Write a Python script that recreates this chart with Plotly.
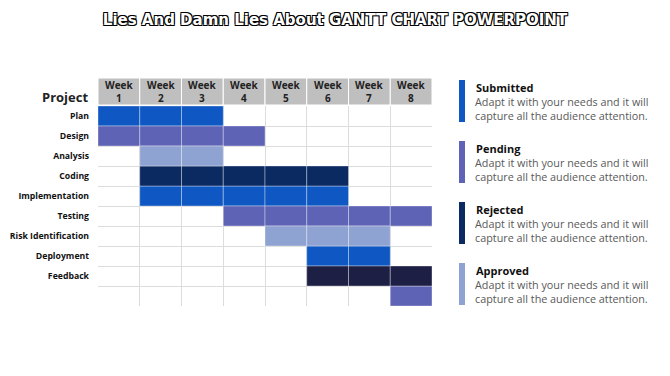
import plotly.graph_objects as go

# ---------------- data ----------------
tasks = ["Plan", "Design", "Analysis", "Coding", "Implementation", "Testing",
         "Risk Identification", "Deployment", "Feedback", ""]
start_week = [1, 1, 2, 2, 2, 4, 5, 6, 6, 8]
end_week = [3, 4, 3, 6, 6, 8, 7, 7, 8, 8]
task_status = ["Submitted", "Pending", "Approved", "Rejected", "Submitted", "Pending",
               "Approved", "Submitted", "Feedback", "Pending"]
weeks = [1, 2, 3, 4, 5, 6, 7, 8]
week_labels = ["Week<br>1", "Week<br>2", "Week<br>3", "Week<br>4",
               "Week<br>5", "Week<br>6", "Week<br>7", "Week<br>8"]
legend_statuses = ["Submitted", "Pending", "Rejected", "Approved"]
legend_text = "Adapt it with your needs and it will<br>capture all the audience attention."
title_text = "Lies And Damn Lies About GANTT CHART POWERPOINT"

# ---------------- style ----------------
COLORS = {"Submitted": "#0f58c4", "Pending": "#5e63b6", "Rejected": "#0b2a62",
          "Approved": "#8fa3d2", "Feedback": "#1e1f44"}
OUTLINE = "-1px -1px 0 #000, 1px -1px 0 #000, -1px 1px 0 #000, 1px 1px 0 #000"

OFF = 8  # page body margin
W, H = 670, 376
L, R, T, B = 98 - OFF, W - (432 - OFF), 106 - OFF, H - (306 - OFF)
PW, PH = W - L - R, H - T - B


def px_x(x):
    return (x - OFF - L) / PW


def px_y(y):
    return (H - B - (y - OFF)) / PH


fig = go.Figure()

# one bar per cell, grouped by status
for st in COLORS:
    ys, xs, bases = [], [], []
    for i, (s, e, ts) in enumerate(zip(start_week, end_week, task_status)):
        if ts != st:
            continue
        for w in range(s, e + 1):
            ys.append(i)
            xs.append(1)
            bases.append(w - 1)
    if not ys:
        continue
    fig.add_trace(go.Bar(
        orientation="h", y=ys, x=xs, base=bases, width=[1] * len(ys),
        marker=dict(color=COLORS[st], line=dict(color="rgba(255,255,255,0.35)", width=1)),
        name=st, showlegend=False, hoverinfo="skip"))

fig.update_layout(
    width=W, height=H, margin=dict(l=L, r=R, t=T, b=B, autoexpand=False),
    paper_bgcolor="white", plot_bgcolor="white",
    barmode="overlay", showlegend=False,
    font=dict(family="Open Sans", color="#000"),
    title=dict(text=title_text, x=(335 - OFF) / W, xanchor="center",
               y=1 - (20 - OFF) / H, yanchor="middle",
               font=dict(family="DejaVu Sans", size=15, color="white", weight="bold",
                         shadow=OUTLINE)),
)
fig.update_xaxes(range=[0, len(weeks)], tickvals=weeks[:-1], showticklabels=False,
                 showgrid=True, gridcolor="#dcdcdc", gridwidth=1, zeroline=False,
                 showline=False, ticks="", fixedrange=True, automargin=False)
n = len(tasks)
fig.update_yaxes(range=[n - 0.5, -0.5], tickvals=list(range(n - 1)), ticktext=tasks[:-1],
                 showgrid=False, zeroline=False, showline=False, ticks="",
                 ticklabelstandoff=8, automargin=False,
                 tickfont=dict(family="Open Sans", size=8.7, color="#111", weight="bold"),
                 minor=dict(tickvals=[i + 0.5 for i in range(n - 1)], showgrid=True,
                            gridcolor="#dcdcdc", gridwidth=1, ticks=""),
                 fixedrange=True)

shapes, annotations = [], []
# header cells
for w, lab in zip(weeks, week_labels):
    shapes.append(dict(type="rect", xref="x", yref="paper", x0=w - 1, x1=w,
                       y0=px_y(105), y1=px_y(78), fillcolor="#bfbfbf",
                       line=dict(color="white", width=1), layer="above"))
    annotations.append(dict(xref="x", yref="paper", x=w - 0.5, y=px_y(91.5), text=lab,
                            showarrow=False, xanchor="center", yanchor="middle",
                            font=dict(family="Open Sans", size=10, color="#222", weight="bold"),
                            align="center"))
annotations.append(dict(xref="paper", yref="paper", x=px_x(90), y=px_y(97), text="Project",
                        showarrow=False, xanchor="right", yanchor="middle",
                        font=dict(family="Open Sans", size=13, color="#222", weight="bold")))

# legend blocks
leg_tops = [80, 141, 202, 263]
for st, top in zip(legend_statuses, leg_tops):
    shapes.append(dict(type="rect", xref="paper", yref="paper", x0=px_x(459), x1=px_x(465),
                       y0=px_y(top + 42), y1=px_y(top), fillcolor=COLORS[st],
                       line=dict(width=0)))
    annotations.append(dict(xref="paper", yref="paper", x=px_x(474), y=px_y(top + 7),
                            text=st, showarrow=False, xanchor="left", yanchor="middle",
                            font=dict(family="Open Sans", size=11, color="#111", weight="bold")))
    annotations.append(dict(xref="paper", yref="paper", x=px_x(473), y=px_y(top + 28),
                            text=legend_text, showarrow=False, xanchor="left", yanchor="middle",
                            align="left",
                            font=dict(family="Open Sans", size=10.8, color="#595959")))

fig.update_layout(shapes=shapes, annotations=annotations)
fig.write_html("out.html")
